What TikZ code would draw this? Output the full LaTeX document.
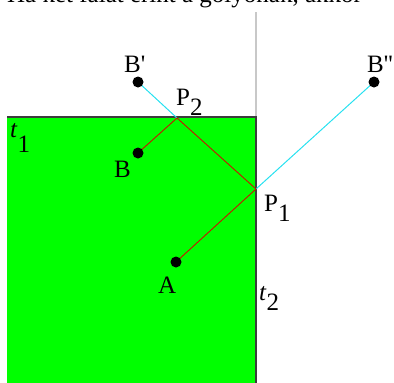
\documentclass[tikz,border=0pt]{standalone}
\usepackage{fontspec}
\setmainfont{Liberation Serif}
\newcommand{\lowd}[1]{\raisebox{-10pt}{#1}}
\definecolor{wallgreen}{RGB}{0,255,0}
\definecolor{raycyan}{RGB}{40,225,240}
\definecolor{rayred}{RGB}{200,20,0}
\definecolor{wallgray}{RGB}{60,60,60}
\definecolor{linegray}{RGB}{200,200,200}
\tikzset{
  dot/.style={circle,fill=black,inner sep=0pt,minimum size=11pt},
  lbl/.style={anchor=base west,inner sep=0pt,font=\fontsize{25}{28}\selectfont},
  redray/.style={draw=rayred,line width=0.9pt},
  cyanray/.style={draw=raycyan,line width=1pt},
  wall/.style={draw=wallgray,line width=2pt},
  guide/.style={draw=linegray,line width=2pt}
}
\begin{document}
\begin{tikzpicture}[x=1pt,y=-1pt]
\useasboundingbox (0,0) rectangle (394,383);
\clip (0,0) rectangle (394,383);
% cut-off heading line
\node[lbl,font=\fontsize{25}{28}\selectfont] (head) at (7,2) {Ha két falat érint a golyónak, akkor};
% table
\fill[wallgreen] (7,117) rectangle (256,383);
\coordinate (TL) at (7,117);
\coordinate (TR) at (256,117);
\coordinate (BR) at (256,384);
\coordinate (GT) at (256,12);
\draw[guide] (GT) -- (TR);
\draw[wall] (TL) -- (TR) -- (BR);
% points
\coordinate (A) at (176,262);
\coordinate (B) at (138,153);
\coordinate (Bp) at (138,82);
\coordinate (Bpp) at (374,82);
\coordinate (P1) at (256,189);
\coordinate (P2) at (177,118);
% rays
\draw[cyanray] (Bp) -- (P2);
\draw[cyanray] (P1) -- (Bpp);
\draw[redray] (A) -- (P1) -- (P2) -- (B);
% dots
\node[dot] (dA) at (A) {};
\node[dot] (dB) at (B) {};
\node[dot] (dBp) at (Bp) {};
\node[dot] (dBpp) at (Bpp) {};
% labels
\node[lbl] (lBp) at (124,72) {B\textquotesingle};
\node[lbl] (lBpp) at (367,72) {B\textquotesingle\textquotesingle};
\node[lbl] (lP2) at (176,105) {P\lowd{2}};
\node[lbl] (lB) at (114,177) {B};
\node[lbl] (lP1) at (264,211) {P\lowd{1}};
\node[lbl] (lA) at (158,293) {A};
\node[lbl] (lt1) at (10,137) {\textit{t}\raisebox{-15pt}{1}};
\node[lbl] (lt2) at (259,300) {\textit{t}\lowd{2}};
\end{tikzpicture}
\end{document}
